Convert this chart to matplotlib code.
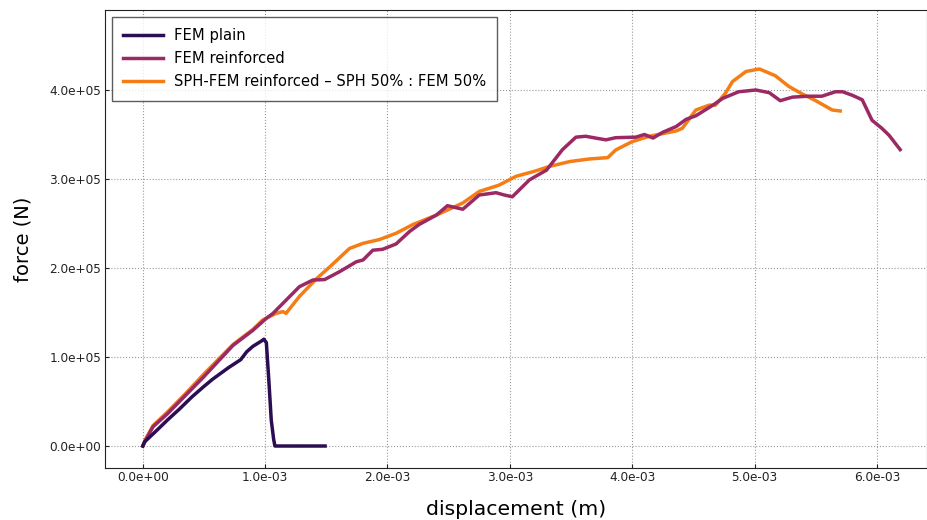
import matplotlib
matplotlib.use("Agg")
import matplotlib.pyplot as plt
import matplotlib.ticker as mticker

# FEM plain (displacement in m, force in N)
plain_x = [0.0, 0.016e-3, 0.1e-3, 0.2e-3, 0.3e-3, 0.4e-3, 0.5e-3, 0.57e-3, 0.7e-3, 0.8e-3,
           0.85e-3, 0.9e-3, 0.97e-3, 0.99e-3, 1.01e-3, 1.03e-3, 1.05e-3, 1.07e-3, 1.08e-3, 1.49e-3]
plain_y = [0.0, 4.8e3, 15.7e3, 29e3, 41.6e3, 55e3, 67e3, 75e3, 88e3, 97e3,
           106e3, 112e3, 118e3, 120e3, 116e3, 74e3, 29e3, 7e3, 0.0, 0.0]

# FEM reinforced
reinf_x = [0.0, 0.02e-3, 0.084e-3, 0.2e-3, 0.35e-3, 0.5e-3, 0.737e-3, 0.9e-3, 1.01e-3, 1.064e-3,
           1.28e-3, 1.39e-3, 1.486e-3, 1.61e-3, 1.745e-3, 1.80e-3, 1.88e-3, 1.96e-3, 2.07e-3, 2.18e-3,
           2.26e-3, 2.40e-3, 2.49e-3, 2.615e-3, 2.75e-3, 2.887e-3, 2.955e-3, 3.02e-3, 3.16e-3, 3.30e-3,
           3.43e-3, 3.54e-3, 3.62e-3, 3.70e-3, 3.785e-3, 3.865e-3, 4.03e-3, 4.10e-3, 4.17e-3, 4.25e-3,
           4.36e-3, 4.44e-3, 4.52e-3, 4.66e-3, 4.74e-3, 4.87e-3, 5.01e-3, 5.12e-3, 5.21e-3, 5.31e-3,
           5.44e-3, 5.55e-3, 5.66e-3, 5.72e-3, 5.80e-3, 5.88e-3, 5.96e-3, 6.04e-3, 6.10e-3, 6.19e-3]
reinf_y = [0.0, 6e3, 21.7e3, 36e3, 57e3, 78e3, 113e3, 130e3, 143.5e3, 149e3,
           179e3, 186.5e3, 187e3, 196e3, 207e3, 209e3, 220e3, 221e3, 227e3, 241e3,
           249e3, 259.5e3, 270e3, 266e3, 282e3, 284.6e3, 282e3, 280e3, 299e3, 310e3,
           333e3, 347e3, 348e3, 346e3, 344e3, 346.4e3, 347e3, 350e3, 346e3, 352.5e3,
           359e3, 367e3, 371e3, 383e3, 390.6e3, 398e3, 400e3, 397e3, 388e3, 392e3,
           393e3, 393e3, 398e3, 398e3, 394e3, 389e3, 366e3, 357e3, 349e3, 333e3]

# SPH-FEM reinforced
sph_x = [0.0, 0.02e-3, 0.084e-3, 0.2e-3, 0.35e-3, 0.5e-3, 0.737e-3, 0.9e-3, 0.98e-3, 1.09e-3,
         1.145e-3, 1.17e-3, 1.28e-3, 1.42e-3, 1.53e-3, 1.69e-3, 1.80e-3, 1.935e-3, 2.07e-3, 2.21e-3,
         2.40e-3, 2.615e-3, 2.75e-3, 2.91e-3, 3.05e-3, 3.21e-3, 3.32e-3, 3.49e-3, 3.65e-3, 3.80e-3,
         3.865e-3, 4.00e-3, 4.14e-3, 4.36e-3, 4.41e-3, 4.52e-3, 4.63e-3, 4.68e-3, 4.76e-3, 4.82e-3,
         4.93e-3, 5.04e-3, 5.17e-3, 5.28e-3, 5.39e-3, 5.50e-3, 5.635e-3, 5.70e-3]
sph_y = [0.0, 7e3, 23e3, 38e3, 59e3, 81e3, 114e3, 131e3, 141.6e3, 149e3,
         151e3, 149e3, 168e3, 188e3, 201.5e3, 222e3, 227.7e3, 232e3, 239e3, 249e3,
         259.5e3, 273e3, 286e3, 293e3, 303e3, 309e3, 314e3, 319.6e3, 322.5e3, 324e3,
         332.6e3, 342e3, 348e3, 354e3, 357e3, 377.5e3, 383e3, 383e3, 396e3, 409.5e3,
         420.8e3, 423.6e3, 416e3, 404e3, 395.5e3, 388e3, 377.5e3, 376.4e3]

labels = ["FEM plain", "FEM reinforced", "SPH-FEM reinforced \u2013 SPH 50% : FEM 50%"]
colors = ["#2a0d52", "#9b2964", "#f57d15"]

fig = plt.figure(figsize=(9.28, 5.2), dpi=100)
ax = fig.add_axes([0.113, 0.1, 0.886, 0.881])

ax.plot(plain_x, plain_y, color=colors[0], lw=2.5, label=labels[0], zorder=4)
ax.plot(reinf_x, reinf_y, color=colors[1], lw=2.5, label=labels[1], zorder=3)
ax.plot(sph_x, sph_y, color=colors[2], lw=2.5, label=labels[2], zorder=2)

ax.set_xlim(-0.31e-3, 6.41e-3)
ax.set_ylim(-0.247e5, 4.9e5)
ax.set_xticks([0, 1e-3, 2e-3, 3e-3, 4e-3, 5e-3, 6e-3])
ax.set_yticks([0, 1e5, 2e5, 3e5, 4e5])
ax.xaxis.set_major_formatter(mticker.FormatStrFormatter("%.1e"))
ax.yaxis.set_major_formatter(mticker.FormatStrFormatter("%.1e"))
ax.tick_params(direction="in", labelsize=8.7, length=3, pad=2.5, colors="#222222")
ax.grid(True, ls=":", color="#999999", lw=0.8)

for s in ax.spines.values():
    s.set_color("#222222")

ax.set_xlabel("displacement (m)", fontsize=14.7, labelpad=11)
ax.set_ylabel("force (N)", fontsize=14, labelpad=12)

leg = ax.legend(loc="upper left", fontsize=10.6, fancybox=False, edgecolor="#333333",
                borderpad=0.75, labelspacing=0.55, handlelength=2.7, handletextpad=0.75,
                borderaxespad=0.5)
leg.get_frame().set_linewidth(1.0)

fig.savefig("out.png", dpi=100)
